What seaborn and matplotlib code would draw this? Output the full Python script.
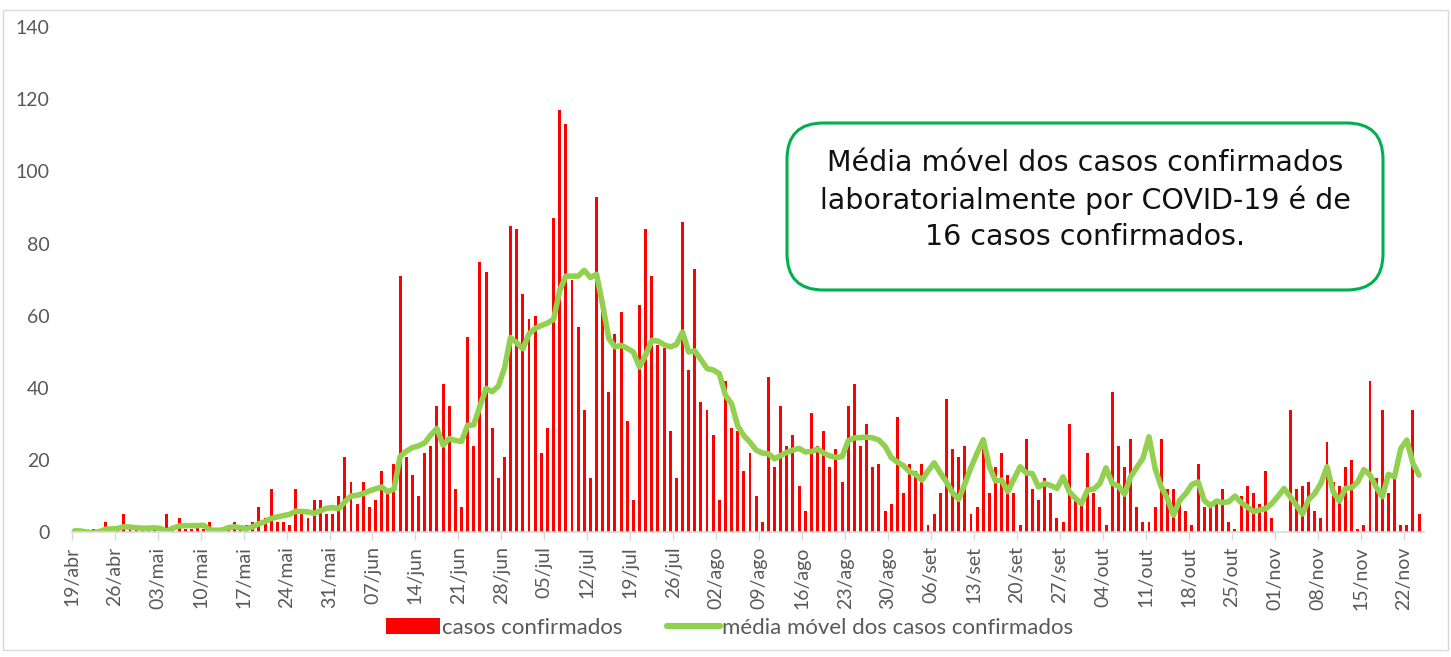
import numpy as np
import pandas as pd
import matplotlib
matplotlib.use('Agg')
import matplotlib.pyplot as plt
from matplotlib.patches import FancyBboxPatch, Patch, Rectangle
from matplotlib.lines import Line2D
import seaborn as sns

# daily cases, 19/abr -> 24/nov
casos = [0, 1, 0, 1, 1, 3, 0, 1, 5, 1, 1, 1, 1, 1, 0, 5, 1, 4, 1, 1,
         2, 1, 3, 0, 1, 2, 3, 1, 2, 3, 7, 4, 12, 3, 3, 2, 12, 5, 4, 9,
         9, 5, 5, 10, 21, 14, 8, 14, 7, 9, 17, 11, 19, 71, 21, 16, 10, 22, 24, 35,
         41, 35, 12, 7, 54, 24, 75, 72, 29, 15, 21, 85, 84, 66, 59, 60, 22, 29, 87, 117,
         113, 70, 57, 34, 15, 93, 61, 39, 55, 61, 31, 9, 63, 84, 71, 52, 51, 28, 15, 86,
         45, 73, 36, 34, 27, 9, 42, 29, 28, 17, 22, 10, 3, 43, 18, 35, 24, 27, 13, 6,
         33, 24, 28, 18, 23, 14, 35, 41, 24, 30, 18, 19, 6, 8, 32, 11, 19, 17, 19, 2,
         5, 11, 37, 23, 21, 24, 5, 7, 23, 11, 18, 22, 16, 11, 2, 26, 12, 9, 15, 11,
         4, 3, 30, 9, 8, 22, 11, 7, 2, 39, 24, 18, 26, 7, 3, 3, 7, 26, 12, 12,
         8, 6, 2, 19, 7, 7, 8, 12, 3, 1, 10, 13, 11, 8, 17, 4, 0, 0, 34, 12,
         13, 14, 6, 4, 25, 14, 13, 18, 20, 1, 2, 42, 15, 34, 11, 15, 2, 2, 34, 5]

# moving average as drawn
media = [0.5, 0.4, 0.1, 0.0, 0.2, 0.9, 1.0, 1.1, 1.6, 1.5,
         1.3, 1.2, 1.2, 1.3, 1.1, 0.4, 1.2, 1.8, 1.9, 1.9,
         1.9, 2.0, 0.7, 0.6, 0.7, 1.3, 1.6, 1.3, 1.1, 1.6,
         2.4, 3.0, 3.9, 4.3, 4.7, 5.0, 5.9, 5.8, 5.7, 5.3,
         6.0, 6.7, 6.9, 6.6, 8.5, 10.1, 10.3, 10.8, 11.5, 12.1,
         12.6, 11.3, 12.0, 21.0, 22.5, 23.5, 24.0, 24.8, 27.0, 28.8,
         24.2, 26.0, 25.5, 25.2, 29.7, 29.8, 35.0, 39.9, 39.0, 40.5,
         45.5, 54.0, 52.5, 50.9, 55.0, 56.5, 57.3, 58.0, 59.0, 67.0,
         71.0, 71.0, 71.0, 72.6, 70.6, 71.5, 63.0, 53.7, 51.4, 51.8,
         51.0, 50.0, 45.8, 49.1, 53.2, 53.0, 52.0, 51.4, 52.0, 55.5,
         50.0, 50.3, 47.9, 45.4, 45.0, 44.0, 38.0, 35.7, 29.5, 26.8,
         25.0, 22.8, 22.0, 21.8, 20.4, 21.3, 22.2, 22.8, 23.3, 22.3,
         22.4, 23.1, 22.0, 21.2, 20.8, 21.0, 25.4, 26.2, 26.3, 26.4,
         26.2, 25.6, 23.9, 20.8, 19.5, 18.5, 16.8, 16.1, 14.5, 17.0,
         19.3, 16.5, 14.0, 11.0, 9.2, 13.5, 18.0, 22.0, 25.7, 18.2,
         14.3, 14.5, 11.3, 14.8, 18.2, 16.5, 16.3, 12.6, 13.6, 13.0,
         12.2, 15.4, 11.3, 9.5, 8.0, 11.8, 12.0, 13.6, 17.9, 13.6,
         12.9, 10.6, 15.4, 18.0, 20.5, 26.5, 17.7, 12.6, 9.4, 4.8,
         8.9, 10.8, 13.3, 14.0, 8.9, 7.4, 8.7, 8.3, 8.5, 10.1,
         8.3, 7.1, 5.8, 6.2, 6.6, 8.0, 10.0, 12.2, 9.9, 7.6,
         5.1, 9.1, 10.8, 13.6, 18.2, 11.3, 8.7, 12.2, 12.4, 14.0,
         17.4, 15.9, 12.6, 9.9, 16.1, 15.4, 23.2, 25.6, 19.1, 15.9]

meses = ['jan', 'fev', 'mar', 'abr', 'mai', 'jun', 'jul', 'ago', 'set', 'out', 'nov', 'dez']
datas = pd.date_range('2020-04-19', periods=len(casos), freq='D')
dias = np.arange(len(casos))

df = pd.DataFrame({'dia': dias, 'casos': casos, 'media': media})

sns.set_style('white')
plt.rcParams['font.family'] = ['Lato', 'DejaVu Sans']

fig = plt.figure(figsize=(14.51, 6.57), dpi=100)
ax = fig.add_axes([0.0494, 0.1895, 0.932, 0.7695])

sns.barplot(data=df, x='dia', y='casos', color='#ff0000', width=0.48,
            saturation=1, linewidth=0, ax=ax)
sns.lineplot(data=df, x='dia', y='media', color='#92d050', linewidth=4.0,
             ax=ax, solid_capstyle='round', solid_joinstyle='round')

ax.set_xlim(-0.5, len(casos) - 0.2)
ax.set_ylim(0, 140)
ax.set_yticks(range(0, 141, 20))
ax.set_xlabel('')
ax.set_ylabel('')

pos = np.arange(0, len(casos), 7)
ax.set_xticks(pos - 0.5)
ax.set_xticklabels([f"{datas[i].day:02d}/{meses[datas[i].month - 1]}" for i in pos],
                   rotation=90)
ax.tick_params(axis='x', colors='#595959', labelsize=14, length=6, width=1,
               color='#d9d9d9', pad=4, direction='out', bottom=True)
ax.tick_params(axis='y', colors='#595959', labelsize=14, length=0, pad=16)

for s in ['top', 'right', 'left']:
    ax.spines[s].set_visible(False)
ax.spines['bottom'].set_color('#d9d9d9')
ax.spines['bottom'].set_linewidth(1.2)

# annotation box
box = FancyBboxPatch((787 / 1451, 1 - 290 / 657), 596 / 1451, 167 / 657,
                     boxstyle='round,pad=0,rounding_size=0.025',
                     transform=fig.transFigure, facecolor='white',
                     edgecolor='#00b050', linewidth=2.2, zorder=5,
                     mutation_aspect=1451 / 657)
fig.patches.append(box)
fig.text(1085 / 1451, 1 - 200 / 657,
         'Média móvel dos casos confirmados\nlaboratorialmente por COVID-19 é de\n16 casos confirmados.',
         ha='center', va='center', fontsize=20.5, color='#111111',
         family=['DejaVu Sans'], linespacing=1.37, zorder=6)

# outer frame
fig.patches.append(Rectangle((3 / 1451, 7 / 657), 1445 / 1451, 640 / 657,
                             transform=fig.transFigure, fill=False,
                             edgecolor='#d9d9d9', linewidth=1))

handles = [Patch(facecolor='#ff0000', edgecolor='none'),
           Line2D([0], [0], color='#92d050', linewidth=4.5)]
fig.legend(handles, ['casos confirmados', 'média móvel dos casos confirmados'],
           loc='center', bbox_to_anchor=(0.503, 1 - 628 / 657), ncol=2,
           frameon=False, fontsize=16, handlelength=2.4, handleheight=0.75,
           handletextpad=0.1, columnspacing=2.0, labelcolor='#595959')

fig.savefig('out.png', dpi=100)
